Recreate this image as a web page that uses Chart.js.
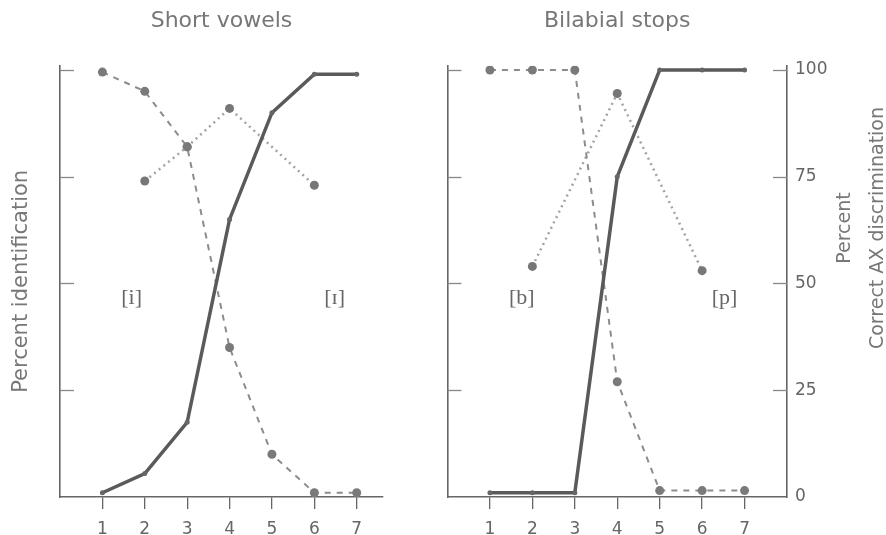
<!DOCTYPE html>
<html>
<head>
<meta charset="utf-8">
<script src="https://cdn.jsdelivr.net/npm/chart.js@4.4.1/dist/chart.umd.min.js"></script>
<style>
  html, body { margin: 0; padding: 0; background: #fff; }
  #marco { position: relative; width: 886px; height: 535px; overflow: hidden; }
  #marco canvas { position: absolute; top: 0; }
</style>
</head>
<body>
<div id="marco">
  <canvas id="vocales" width="443" height="535" style="left:0"></canvas>
  <canvas id="oclusivas" width="443" height="535" style="left:443px"></canvas>
</div>
<script>
// Estimulos y ticks
const estimulos = [1, 2, 3, 4, 5, 6, 7]
const ticksPorcentaje = [0, 25, 50, 75, 100]

// Short vowels: identificacion [i] / [ɪ] y discriminacion AX
const vocalI = [99.5, 95, 82, 35, 10, 1, 1]
const vocalII = [1, 5.5, 17.5, 65, 90, 99, 99]
const vocalDiscrim = [null, 74, 82, 91, null, 73, null]

// Bilabial stops: identificacion [b] / [p] y discriminacion AX
const oclusivaB = [100, 100, 100, 27, 1.5, 1.5, 1.5]
const oclusivaP = [1, 1, 1, 75, 100, 100, 100]
const oclusivaDiscrim = [null, 54, null, 94.5, null, 53, null]

const gris = "#666"
const grisTexto = "#777"

function puntos(valores) {
  return valores
    .map((v, i) => ({ x: estimulos[i], y: v }))
    .filter((p) => p.y !== null)
}

function serieSolida(valores) {
  return {
    data: puntos(valores),
    borderColor: "#5a5a5a",
    borderWidth: 3.5,
    pointRadius: 2.5,
    pointBackgroundColor: "#666",
    pointBorderWidth: 0,
    order: 0,
  }
}
function serieDiscontinua(valores) {
  return {
    data: puntos(valores),
    borderColor: "#8c8c8c",
    borderWidth: 2,
    borderDash: [6, 6],
    pointRadius: 4.5,
    pointBackgroundColor: "#7a7a7a",
    pointBorderWidth: 0,
    order: 1,
  }
}
function seriePunteada(valores, eje) {
  return {
    data: puntos(valores),
    yAxisID: eje,
    borderColor: "#a3a3a3",
    borderWidth: 2.5,
    borderDash: [2, 4],
    pointRadius: 4.5,
    pointBackgroundColor: "#777",
    pointBorderWidth: 0,
    order: 2,
  }
}

// Marcas hacia dentro en los ejes verticales
const marcasInternas = {
  id: "marcasInternas",
  afterDraw(chart, args, opts) {
    const ctx = chart.ctx
    ctx.save()
    ctx.strokeStyle = "#888"
    ctx.lineWidth = 1.3
    ;(opts.ejes || []).forEach((id) => {
      const s = chart.scales[id]
      const izq = s.position === "left"
      const x0 = izq ? s.right : s.left
      ticksPorcentaje.slice(1).forEach((v) => {
        const y = Math.round(s.getPixelForValue(v)) + 0.5
        ctx.beginPath()
        ctx.moveTo(x0, y)
        ctx.lineTo(x0 + (izq ? 14 : -14), y)
        ctx.stroke()
      })
    })
    ctx.restore()
  },
}

// Etiquetas fonéticas dentro del area del grafico
const etiquetas = {
  id: "etiquetas",
  afterDatasetsDraw(chart, args, opts) {
    const ctx = chart.ctx
    ctx.save()
    ctx.fillStyle = gris
    ctx.font = "22px 'Liberation Serif', 'DejaVu Serif', serif"
    ctx.textAlign = "center"
    ctx.textBaseline = "middle"
    ;(opts.items || []).forEach((e) => {
      ctx.fillText(e.texto, chart.scales.x.getPixelForValue(e.x), chart.scales.y.getPixelForValue(e.y))
    })
    ctx.restore()
  },
}

// Titulo del eje derecho en dos lineas, leido de abajo arriba
const tituloDerecho = {
  id: "tituloDerecho",
  afterDraw(chart, args, opts) {
    if (!opts.lineas) return
    const ctx = chart.ctx
    ctx.save()
    ctx.fillStyle = grisTexto
    ctx.font = "19px 'DejaVu Sans'"
    ctx.textAlign = "center"
    ctx.textBaseline = "middle"
    ctx.translate(opts.x, opts.y)
    ctx.rotate(-Math.PI / 2)
    opts.lineas.forEach((t, i) => ctx.fillText(t, 0, i * opts.interlineado))
    ctx.restore()
  },
}

function ejeX(max) {
  return {
    type: "linear",
    min: 0,
    max: max,
    afterBuildTicks: (s) => { s.ticks = estimulos.map((v) => ({ value: v })) },
    afterFit: (s) => { s.height = 38 },
    grid: { drawOnChartArea: false, drawTicks: true, tickLength: 12, color: gris, lineWidth: 1.3 },
    border: { display: true, color: gris, width: 1.6 },
    ticks: { color: gris, padding: 10, font: { family: "DejaVu Sans", size: 17 } },
  }
}
function ejeY(posicion, ancho, extra) {
  return Object.assign({
    type: "linear",
    position: posicion,
    min: 0,
    max: 101,
    afterBuildTicks: (s) => { s.ticks = ticksPorcentaje.map((v) => ({ value: v })) },
    afterFit: (s) => { s.width = ancho },
    grid: { drawOnChartArea: false, drawTicks: false },
    border: { display: true, color: gris, width: 1.6 },
    ticks: { display: false },
  }, extra || {})
}
function tituloPanel(texto) {
  return {
    display: true,
    text: texto,
    fullSize: false,
    color: grisTexto,
    font: { family: "DejaVu Sans", size: 22, weight: "normal" },
    padding: { top: 8, bottom: 31.3 },
  }
}

new Chart(document.getElementById("vocales"), {
  type: "line",
  data: {
    datasets: [serieSolida(vocalII), serieDiscontinua(vocalI), seriePunteada(vocalDiscrim, "y")],
  },
  plugins: [marcasInternas, etiquetas],
  options: {
    responsive: false,
    animation: false,
    devicePixelRatio: 1,
    layout: { padding: { left: 0, right: 60, top: 0, bottom: 0 } },
    elements: { line: { tension: 0 } },
    scales: {
      x: ejeX(7.62),
      y: ejeY("left", 60, {
        title: {
          display: true,
          text: "Percent identification",
          color: grisTexto,
          font: { family: "DejaVu Sans", size: 21 },
          padding: { top: 9, bottom: 0 },
        },
      }),
    },
    plugins: {
      legend: { display: false },
      tooltip: { enabled: false },
      title: tituloPanel("Short vowels"),
      marcasInternas: { ejes: ["y"] },
      etiquetas: { items: [{ texto: "[i]", x: 1.69, y: 46.5 }, { texto: "[ɪ]", x: 6.48, y: 46.5 }] },
    },
  },
})

new Chart(document.getElementById("oclusivas"), {
  type: "line",
  data: {
    datasets: [serieSolida(oclusivaP), serieDiscontinua(oclusivaB), seriePunteada(oclusivaDiscrim, "y2")],
  },
  plugins: [marcasInternas, etiquetas, tituloDerecho],
  options: {
    responsive: false,
    animation: false,
    devicePixelRatio: 1,
    layout: { padding: 0 },
    elements: { line: { tension: 0 } },
    scales: {
      x: ejeX(8),
      y: ejeY("left", 4),
      y2: ejeY("right", 99, {
        ticks: { display: true, color: gris, padding: 8, font: { family: "DejaVu Sans", size: 17 } },
      }),
    },
    plugins: {
      legend: { display: false },
      tooltip: { enabled: false },
      title: tituloPanel("Bilabial stops"),
      marcasInternas: { ejes: ["y", "y2"] },
      etiquetas: { items: [{ texto: "[b]", x: 1.75, y: 46.5 }, { texto: "[p]", x: 6.53, y: 46.5 }] },
      tituloDerecho: { lineas: ["Percent", "Correct AX discrimination"], x: 402, y: 228, interlineado: 33 },
    },
  },
})
</script>
</body>
</html>
